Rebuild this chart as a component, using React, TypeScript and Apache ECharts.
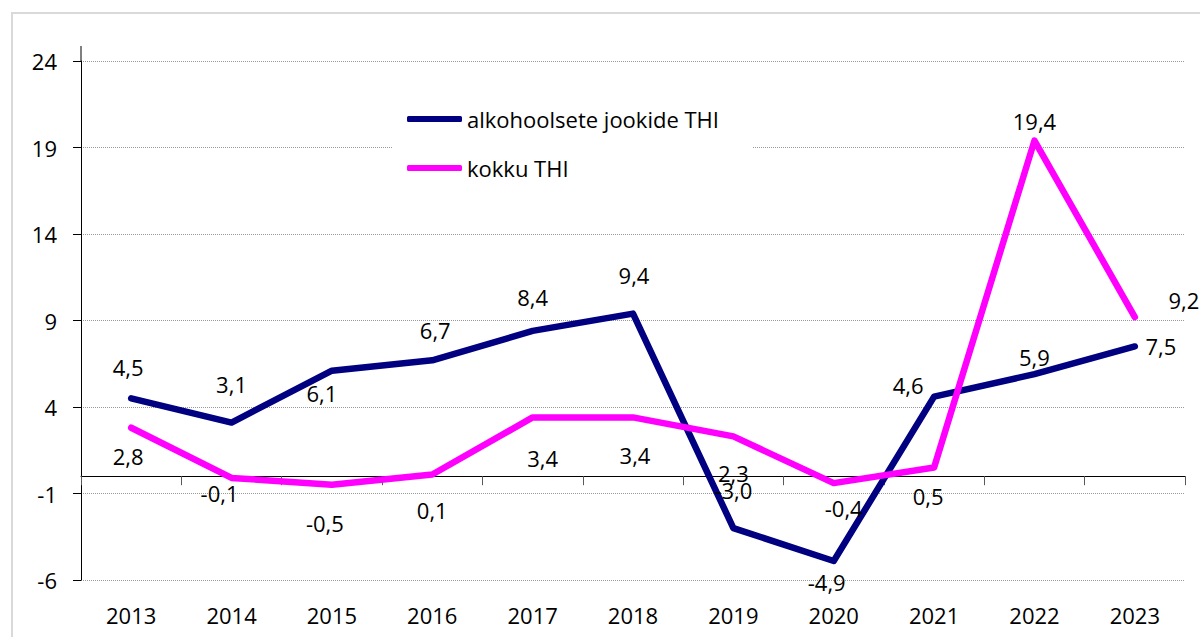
import React, { useEffect, useRef } from "react";
import * as echarts from "echarts";

const years = ["2013", "2014", "2015", "2016", "2017", "2018", "2019", "2020", "2021", "2022", "2023"];
const alcoholValues = [4.5, 3.1, 6.1, 6.7, 8.4, 9.4, -3.0, -4.9, 4.6, 5.9, 7.5];
const totalValues = [2.8, -0.1, -0.5, 0.1, 3.4, 3.4, 2.3, -0.4, 0.5, 19.4, 9.2];
const seriesNames = ["alkohoolsete jookide THI", "kokku THI"];
const yMin = -6;
const yMax = 24;
const yInterval = 5;

// label placement offsets (style only)
const alcoholLabelOffsets = [
  [-3, -31], [0, -39], [-10, 22], [3, -30], [0, -34], [1, -39],
  [0, -38], [-7, 21], [-26, -12], [0, -17], [26, 0],
];
const totalLabelOffsets = [
  [-3, 28], [-12, 15], [-7, 38], [0, 36], [10, 41], [2, 38],
  [0, 37], [10, 25], [-6, 28], [0, -20], [49, -17],
];

const FONT = "'Open Sans', 'Noto Sans', sans-serif";

const fmt = (v: number) => v.toFixed(1).replace(".", ",");

function buildData(values: number[], offsets: number[][]) {
  return values.map((v, i) => ({
    value: v,
    label: { offset: offsets[i] },
  }));
}

export default function App() {
  const ref = useRef<HTMLDivElement>(null);
  useEffect(() => {
    if (!ref.current) return;
    const chart = echarts.init(ref.current, null, { renderer: "svg" });
    const labelCommon = {
      show: true,
      position: "inside",
      color: "#000",
      fontSize: 22,
      fontFamily: FONT,
      formatter: (p: any) => fmt(p.value),
    };
    chart.setOption({
      animation: false,
      backgroundColor: "#fff",
      grid: { left: 81, right: 15, top: 61, bottom: 57 },
      legend: {
        orient: "vertical",
        left: 393,
        top: 92,
        backgroundColor: "#fff",
        padding: [15, 34, 15, 14],
        itemWidth: 55,
        itemHeight: 6,
        itemGap: 25,
        icon: "roundRect",
        textStyle: { fontSize: 22, fontFamily: FONT, color: "#000", lineHeight: 24 },
        data: seriesNames,
      },
      xAxis: [
        {
          type: "category",
          data: years,
          boundaryGap: true,
          axisLine: { onZero: true, lineStyle: { color: "#000", width: 1 } },
          axisTick: { show: true, interval: 0, length: 9, lineStyle: { color: "#595959" } },
          axisLabel: { show: false },
          splitLine: { show: false },
        },
        {
          type: "category",
          data: years,
          position: "bottom",
          boundaryGap: true,
          axisLine: { show: false, onZero: false },
          axisTick: { show: false },
          axisLabel: { show: true, margin: 24, fontSize: 22, fontFamily: FONT, color: "#000", interval: 0 },
          splitLine: { show: false },
        },
      ],
      yAxis: {
        type: "value",
        min: yMin,
        max: yMax,
        interval: yInterval,
        axisLine: { show: true, lineStyle: { color: "#000", width: 1 } },
        axisTick: { show: true, length: 8, lineStyle: { color: "#000" } },
        axisLabel: { margin: 24, fontSize: 22, fontFamily: FONT, color: "#000" },
        splitLine: { show: true, lineStyle: { color: "#999", type: [1, 1], width: 1 } },
      },
      graphic: [
        {
          type: "rect",
          shape: { x: 12, y: 13, width: 1400, height: 800 },
          style: { fill: "none", stroke: "#d9d9d9", lineWidth: 2 },
          silent: true,
          z: -10,
        },
        {
          type: "line",
          shape: { x1: 81, y1: 46, x2: 81, y2: 61 },
          style: { stroke: "#000", lineWidth: 1 },
          silent: true,
        },
      ],
      series: [
        {
          name: seriesNames[0],
          type: "line",
          xAxisIndex: 0,
          data: buildData(alcoholValues, alcoholLabelOffsets),
          color: "#000080",
          symbol: "circle",
          symbolSize: 1,
          showSymbol: true,
          lineStyle: { width: 6.5, color: "#000080", cap: "round", join: "round" },
          itemStyle: { color: "#000080" },
          label: labelCommon,
        },
        {
          name: seriesNames[1],
          type: "line",
          xAxisIndex: 0,
          data: buildData(totalValues, totalLabelOffsets),
          color: "#ff00ff",
          symbol: "circle",
          symbolSize: 1,
          showSymbol: true,
          lineStyle: { width: 6.5, color: "#ff00ff", cap: "round", join: "round" },
          itemStyle: { color: "#ff00ff" },
          label: labelCommon,
        },
      ],
    });
    return () => chart.dispose();
  }, []);
  return (
    <div
      ref={ref}
      style={{ position: "fixed", left: 0, top: 0, width: 1200, height: 637 }}
    />
  );
}
